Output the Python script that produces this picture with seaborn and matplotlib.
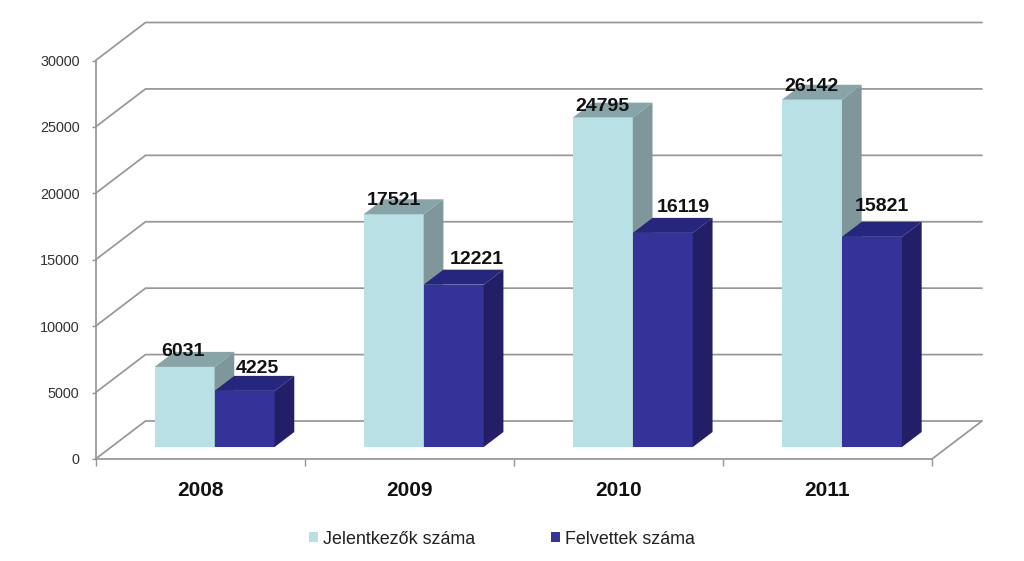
import matplotlib
matplotlib.use('Agg')
import matplotlib.pyplot as plt
import pandas as pd
import seaborn as sns
from matplotlib.patches import Polygon

years = ['2008', '2009', '2010', '2011']
jelentkezok = [6031, 17521, 24795, 26142]
felvettek = [4225, 12221, 16119, 15821]
y_ticks = [0, 5000, 10000, 15000, 20000, 25000, 30000]

# colours: front, top, side
light = ['#B9E1E5', '#87A5A9', '#7F979B']
dark = ['#333399', '#26267F', '#221F66']
line_col = '#979797'

df = pd.DataFrame({
    'year': years * 2,
    'series': ['Jelentkezők száma'] * 4 + ['Felvettek száma'] * 4,
    'value': jelentkezok + felvettek,
})

sns.set_style('white')
plt.rcParams['font.family'] = ['Liberation Sans', 'DejaVu Sans']

fig = plt.figure(figsize=(10.24, 5.61), dpi=100)
ax = fig.add_axes([95.5 / 1024, 102 / 561, 836.5 / 1024, 398.5 / 561])

sns.barplot(data=df, x='year', y='value', hue='series', ax=ax, width=120 / 209, gap=0,
            saturation=1, linewidth=0, palette=[light[0], dark[0]])

ax.set_xlim(-0.5, 3.5)
ax.set_ylim(0, 30000)

# one pixel in data units
px = 4 / 836.5
py = 30000 / 398.5

# walls: lines go back 50 px to the right, 38 px up
wall_x = 50 * px
wall_y = 38 * py
for t in y_ticks:
    ax.plot([-0.5, -0.5 + wall_x, 3.5 + wall_x], [t, t + wall_y, t + wall_y], color=line_col,
            lw=1.25, clip_on=False, zorder=1)
ax.plot([3.5, 3.5 + wall_x], [0, wall_y], color=line_col, lw=1.25, clip_on=False, zorder=1)

# bars stand a bit behind the front edge of the floor
shift_x = 14.5 * px
shift_y = 12 * py
depth_x = 19.7 * px
depth_y = 15 * py


def add_depth(bar, cols, z):
    bar.set_x(bar.get_x() + shift_x)
    bar.set_y(shift_y)
    bar.set_zorder(z)
    x0 = bar.get_x()
    x1 = x0 + bar.get_width()
    y0 = shift_y
    y1 = shift_y + bar.get_height()
    top = [(x0, y1), (x1, y1), (x1 + depth_x, y1 + depth_y), (x0 + depth_x, y1 + depth_y)]
    side = [(x1, y0), (x1, y1), (x1 + depth_x, y1 + depth_y), (x1 + depth_x, y0 + depth_y)]
    ax.add_patch(Polygon(top, closed=True, fc=cols[1], ec='none', zorder=z, clip_on=False))
    ax.add_patch(Polygon(side, closed=True, fc=cols[2], ec='none', zorder=z, clip_on=False))


for bar in ax.containers[0]:
    add_depth(bar, light, 3)
for bar in ax.containers[1]:
    add_depth(bar, dark, 4)

# value labels, moved by hand like in the original
light_off = [(-1.5, 11), (0, 9), (-0.5, 7), (-0.5, 9)]
dark_off = [(12.5, 18), (23, 21), (20, 21), (10, 26)]
for container, vals, offs in [(ax.containers[0], jelentkezok, light_off), (ax.containers[1], felvettek, dark_off)]:
    for bar, v, off in zip(container, vals, offs):
        ax.annotate(str(v), (bar.get_x() + bar.get_width() / 2, bar.get_y() + v), xytext=off,
                    textcoords='offset pixels', ha='center', va='baseline', fontsize=14,
                    fontweight='bold', color='#111111', zorder=6, annotation_clip=False)

ax.set_xlabel('')
ax.set_ylabel('')
ax.set_yticks(y_ticks)
ax.set_xticks(range(4))
ax.set_xticklabels(years, fontsize=15, fontweight='bold', color='#111111')
ax.set_xticks([-0.5, 0.5, 1.5, 2.5, 3.5], minor=True)
ax.tick_params(axis='x', which='major', length=0, pad=16)
ax.tick_params(axis='x', which='minor', bottom=True, length=5, width=1, color=line_col, direction='out')
ax.tick_params(axis='y', left=True, length=3, width=1, color=line_col, pad=8.5, labelsize=10.4, labelcolor='#333333')

sns.despine(ax=ax, top=True, right=True)
for s in ['left', 'bottom']:
    ax.spines[s].set_color(line_col)
    ax.spines[s].set_linewidth(1.25)

sns.move_legend(ax, 'center', bbox_to_anchor=(502 / 1024, 1 - 539 / 561), bbox_transform=fig.transFigure,
                ncol=2, frameon=False, title=None, fontsize=12.9, handlelength=0.5, handleheight=0.5,
                handletextpad=0.25, columnspacing=4.25, labelcolor='#222222')

fig.savefig('out.png', dpi=100)
